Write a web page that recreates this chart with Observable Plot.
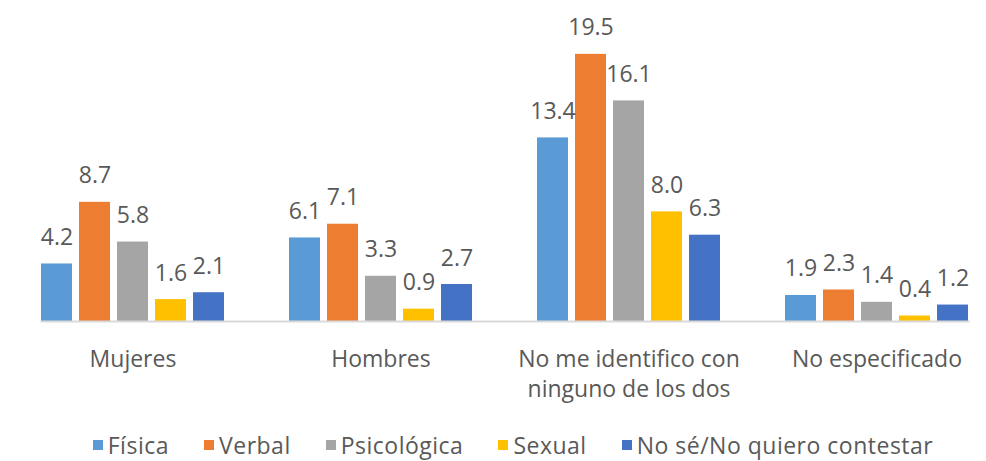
<!DOCTYPE html>
<html>
<head>
<meta charset="utf-8">
<script src="https://cdn.jsdelivr.net/npm/d3@7"></script>
<script src="https://cdn.jsdelivr.net/npm/@observablehq/plot@0.6"></script>
<style>
  html, body { margin: 0; padding: 0; background: #fff; }
  #chart { width: 986px; }
  .legend { display: flex; justify-content: center; align-items: center; height: 32px; margin-top: 4px;
    font-family: "Open Sans", sans-serif; font-size: 23px; line-height: 30px; letter-spacing: 0.5px; color: #595959; padding-left: 40px; box-sizing: border-box; width: 986px; }
  .legend .item { display: flex; align-items: center; margin-right: 35px; }
  .legend .item:last-child { margin-right: 0; }
  .legend .sw { width: 10px; height: 10px; margin-right: 5px; }
</style>
</head>
<body>
<div id="chart"></div>
<script>
const groups = ["Mujeres", "Hombres", "No me identifico con ninguno de los dos", "No especificado"];
const groupLabels = ["Mujeres", "Hombres", "No me identifico con\nninguno de los dos", "No especificado"];
const series = ["Física", "Verbal", "Psicológica", "Sexual", "No sé/No quiero contestar"];
const colors = ["#5B9BD5", "#ED7D31", "#A5A5A5", "#FFC000", "#4472C4"];

const fisica      = [4.2, 6.1, 13.4, 1.9];
const verbal      = [8.7, 7.1, 19.5, 2.3];
const psicologica = [5.8, 3.3, 16.1, 1.4];
const sexual      = [1.6, 0.9, 8.0, 0.4];
const noSe        = [2.1, 2.7, 6.3, 1.2];

const valuesBySeries = [fisica, verbal, psicologica, sexual, noSe];
const data = [];
groups.forEach((g, gi) => {
  series.forEach((s, si) => {
    data.push({group: g, series: s, value: valuesBySeries[si][gi]});
  });
});

const fmt = d3.format(".1f");
const textColor = "#595959";
const font = "'Open Sans', sans-serif";

const chart = Plot.plot({
  width: 986,
  height: 425,
  marginTop: 47,
  marginBottom: 104,
  marginLeft: 8,
  marginRight: 0,
  style: {fontFamily: font, background: "#fff", overflow: "visible"},
  fx: {domain: groups, range: [8.3, 1000.3], paddingInner: 0.261, paddingOuter: 0.1305, label: null, axis: null},
  x: {domain: series, paddingInner: 0.19, paddingOuter: 0, axis: null},
  y: {domain: [0, 20], axis: null},
  color: {domain: series, range: colors},
  marks: [
    Plot.barY(data, {fx: "group", x: "series", y: "value", fill: "series"}),
    Plot.frame({anchor: "bottom", facet: "super", stroke: "#D9D9D9", strokeWidth: 2}),
    Plot.text(data, {fx: "group", x: "series", y: "value", text: d => fmt(d.value),
      lineAnchor: "bottom", dy: -19, fill: textColor, fontSize: 23}),
    Plot.axisFx({anchor: "bottom", tickSize: 0, tickPadding: 24, fontSize: 23, lineHeight: 1.3,
      color: textColor, label: null, tickFormat: d => groupLabels[groups.indexOf(d)]})
  ]
});
document.getElementById("chart").appendChild(chart);

const legend = document.createElement("div");
legend.className = "legend";
series.forEach((s, i) => {
  const item = document.createElement("div");
  item.className = "item";
  const sw = document.createElement("span");
  sw.className = "sw";
  sw.style.background = colors[i];
  const t = document.createElement("span");
  t.textContent = s;
  item.appendChild(sw);
  item.appendChild(t);
  legend.appendChild(item);
});
document.getElementById("chart").appendChild(legend);
</script>
</body>
</html>
